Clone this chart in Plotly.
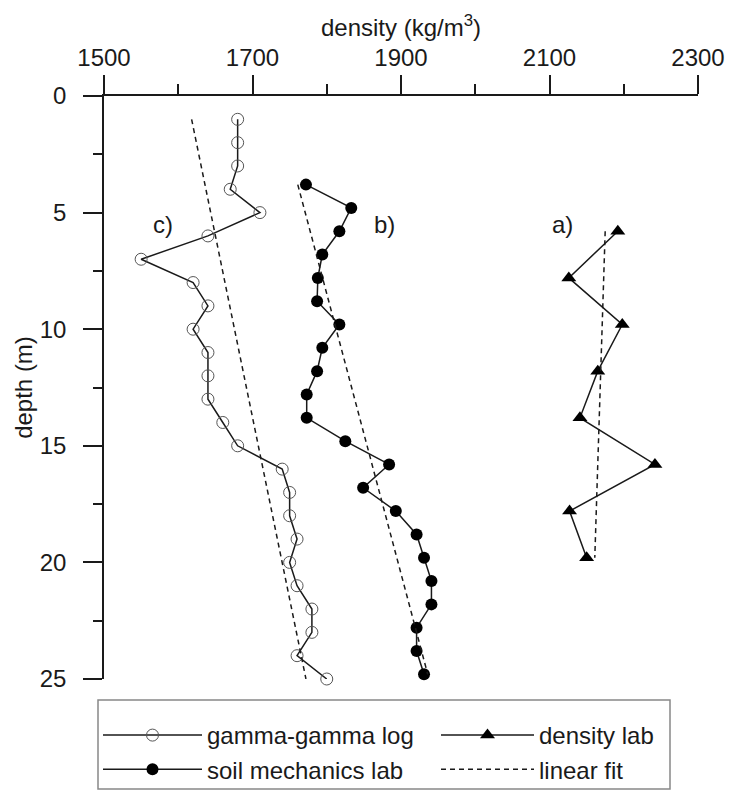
import plotly.graph_objects as go

# gamma-gamma log (open circles)
gamma_depth = list(range(1, 26))
gamma_density = [1680, 1680, 1680, 1670, 1710, 1640, 1550, 1620, 1640, 1620,
                 1640, 1640, 1640, 1660, 1680, 1740, 1750, 1750, 1760, 1750,
                 1760, 1780, 1780, 1760, 1800]
gamma_fit_depth = [1, 25]
gamma_fit_density = [1618, 1772]

# soil mechanics lab (filled circles)
soil_depth = [3.8, 4.8, 5.8, 6.8, 7.8, 8.8, 9.8, 10.8, 11.8, 12.8, 13.8,
              14.8, 15.8, 16.8, 17.8, 18.8, 19.8, 20.8, 21.8, 22.8, 23.8, 24.8]
soil_density = [1772, 1833, 1817, 1794, 1788, 1787, 1817, 1794, 1787, 1773, 1773,
                1825, 1884, 1849, 1893, 1921, 1931, 1941, 1941, 1921, 1921, 1931]
soil_fit_depth = [3.8, 24.8]
soil_fit_density = [1761, 1936]

# density lab (triangles)
lab_depth = [5.8, 7.8, 9.8, 11.8, 13.8, 15.8, 17.8, 19.8]
lab_density = [2192, 2126, 2198, 2165, 2141, 2242, 2127, 2150]
lab_fit_depth = [5.8, 19.8]
lab_fit_density = [2175, 2161]

x_ticks = [1500, 1700, 1900, 2100, 2300]
y_ticks = [0, 5, 10, 15, 20, 25]

panel_labels = ["a)", "b)", "c)"]
panel_label_x = [2118, 1878, 1579]
panel_label_y = [5.5, 5.5, 5.5]

FONT = "Arial, Liberation Sans, sans-serif"
INK = "#1a1a1a"

fig = go.Figure()

fig.add_trace(go.Scatter(
    x=gamma_density, y=gamma_depth, mode="lines+markers", name="gamma-gamma log",
    line=dict(color=INK, width=1.5), legend="legend",
    marker=dict(symbol="circle-open", size=12, color="#555555", line=dict(width=1)),
    cliponaxis=False))
fig.add_trace(go.Scatter(
    x=soil_density, y=soil_depth, mode="lines+markers", name="soil mechanics lab",
    line=dict(color=INK, width=1.5), legend="legend",
    marker=dict(symbol="circle", size=12, color="black"),
    cliponaxis=False))
fig.add_trace(go.Scatter(
    x=lab_density, y=lab_depth, mode="lines+markers", name="density lab",
    line=dict(color=INK, width=1.5), legend="legend2",
    marker=dict(symbol="triangle-up", size=13, color="black"),
    cliponaxis=False))

for i, (fx, fy) in enumerate([(gamma_fit_density, gamma_fit_depth),
                              (soil_fit_density, soil_fit_depth),
                              (lab_fit_density, lab_fit_depth)]):
    fig.add_trace(go.Scatter(
        x=fx, y=fy, mode="lines", name="linear fit", legend="legend2",
        showlegend=(i == 0),
        line=dict(color=INK, width=1.5, dash="5px,4px"),
        cliponaxis=False))

for t, lx, ly in zip(panel_labels, panel_label_x, panel_label_y):
    fig.add_annotation(x=lx, y=ly, text=t, showarrow=False,
                       font=dict(family=FONT, size=24, color=INK))

# legend frame (pixel geometry converted to paper coordinates)
W, H = 729, 792
ML, MR, MT, MB = 104, 31, 96, 113
PW, PH = W - ML - MR, H - MT - MB


def px_x(p):
    return (p - ML) / PW


def px_y(p):
    return (H - MB - p) / PH


fig.add_shape(type="rect", xref="paper", yref="paper",
              x0=px_x(98), x1=px_x(670), y0=px_y(700), y1=px_y(789),
              line=dict(color="#888888", width=1.5), fillcolor="rgba(0,0,0,0)")

leg_common = dict(orientation="v", yanchor="top", xanchor="left",
                  borderwidth=0, bgcolor="rgba(0,0,0,0)",
                  font=dict(family=FONT, size=24, color=INK), tracegroupgap=0)

fig.update_layout(
    width=W, height=H,
    margin=dict(l=ML, r=MR, t=MT, b=MB, autoexpand=False),
    paper_bgcolor="white", plot_bgcolor="white",
    font=dict(family=FONT, size=24, color=INK),
    showlegend=True,
    legend=dict(x=px_x(98), y=px_y(713), itemwidth=99, **leg_common),
    legend2=dict(x=px_x(436), y=px_y(713), itemwidth=93, **leg_common),
    xaxis=dict(
        side="top", range=[1500, 2300], tickvals=x_ticks,
        ticks="outside", ticklen=19, tickwidth=1.5, tickcolor=INK,
        minor=dict(dtick=100, ticks="outside", ticklen=10, tickwidth=1.5, tickcolor=INK),
        showline=True, linecolor=INK, linewidth=1.5, mirror=False,
        showgrid=False, zeroline=False,
        tickfont=dict(size=24), ticklabelstandoff=0,
        title=dict(text="density (kg/m<sup>3</sup>)", font=dict(size=24), standoff=0)),
    yaxis=dict(
        range=[25, 0], tickvals=y_ticks,
        ticks="outside", ticklen=19, tickwidth=1.5, tickcolor=INK,
        minor=dict(dtick=2.5, ticks="outside", ticklen=9, tickwidth=1.5, tickcolor=INK),
        showline=True, linecolor=INK, linewidth=1.5, mirror=False,
        showgrid=False, zeroline=False,
        tickfont=dict(size=24), ticklabelstandoff=12,
        title=dict(text="depth (m)", font=dict(size=24), standoff=0)),
)

fig.write_html("out.html")
